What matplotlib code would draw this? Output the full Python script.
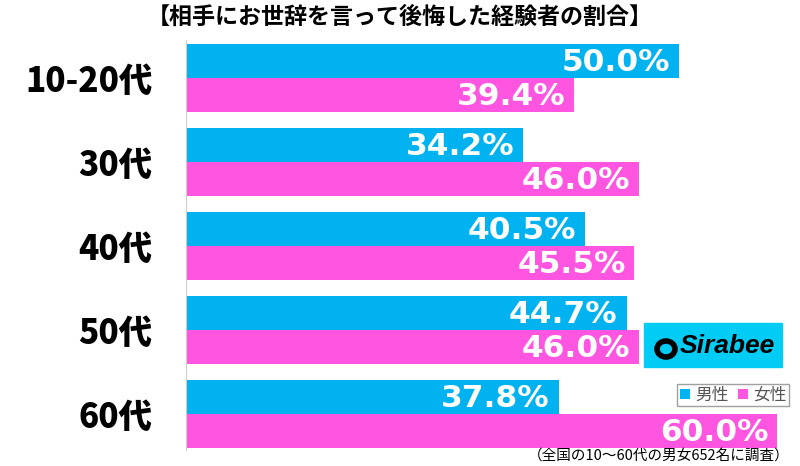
import matplotlib.pyplot as plt
from matplotlib.patches import Rectangle, Ellipse
import numpy as np

plt.rcParams['font.family'] = ['Noto Sans CJK JP', 'DejaVu Sans']

categories = ['10-20代', '30代', '40代', '50代', '60代']
male = [50.0, 34.2, 40.5, 44.7, 37.8]
female = [39.4, 46.0, 45.5, 46.0, 60.0]

blue = '#00b2f0'
pink = '#ff55e0'

fig = plt.figure(figsize=(8, 4.66), dpi=100)
ax = fig.add_axes([186 / 800, 16 / 466, 614 / 800, 410 / 466])

y = np.arange(len(categories))
h = 0.405
ax.barh(y - h / 2, male, height=h, color=blue, label='男性')
ax.barh(y + h / 2, female, height=h, color=pink, label='女性')

for i in range(len(categories)):
    ax.text(male[i] - 0.9, y[i] - h / 2 + 0.02, f'{male[i]:.1f}%', color='white',
            fontsize=22.5, fontweight='bold', ha='right', va='center', family='DejaVu Sans')
    ax.text(female[i] - 0.9, y[i] + h / 2 + 0.02, f'{female[i]:.1f}%', color='white',
            fontsize=22.5, fontweight='bold', ha='right', va='center', family='DejaVu Sans')

ax.set_xlim(0, 62.3)
ax.set_ylim(4.43, -0.452)
ax.set_yticks(y)
ax.set_yticklabels(categories, fontsize=24, fontweight='heavy')
ax.tick_params(axis='y', length=0, pad=24)
ax.set_xticks([])
for s in ['top', 'right', 'bottom']:
    ax.spines[s].set_visible(False)
ax.spines['left'].set_color('#cccccc')

fig.text(400 / 800, 1 - 17 / 466, '【相手にお世辞を言って後悔した経験者の割合】', ha='center', va='center',
         fontsize=16.6, fontweight='bold')

# logo
fig.patches.append(Rectangle((644 / 800, 1 - 367 / 466), 138 / 800, 44 / 466,
                             transform=fig.transFigure, color='#00ccf5'))
fig.patches.append(Ellipse((666 / 800, 1 - 349 / 466), 18 / 800, 16 / 466,
                           transform=fig.transFigure, facecolor='none', edgecolor='black',
                           linewidth=4))
fig.text(680 / 800, 1 - 346 / 466, 'Sirabee', fontsize=19, fontweight='bold', style='italic',
         ha='left', va='center', family='Liberation Sans')

leg = ax.legend(loc='upper left', bbox_to_anchor=(669 / 800, 1 - 376 / 466),
                bbox_transform=fig.transFigure, ncol=2, fontsize=12, frameon=True,
                handlelength=0.6, handleheight=0.6, handletextpad=0.3, columnspacing=0.6,
                borderpad=0.15, fancybox=False)
leg.get_frame().set_edgecolor('#888888')
for t in leg.get_texts():
    t.set_color('#555555')

fig.text(790 / 800, 1 - 456 / 466, '（全国の10〜60代の男女652名に調査）', ha='right', va='center',
         fontsize=10.5)

fig.savefig('out.png')
